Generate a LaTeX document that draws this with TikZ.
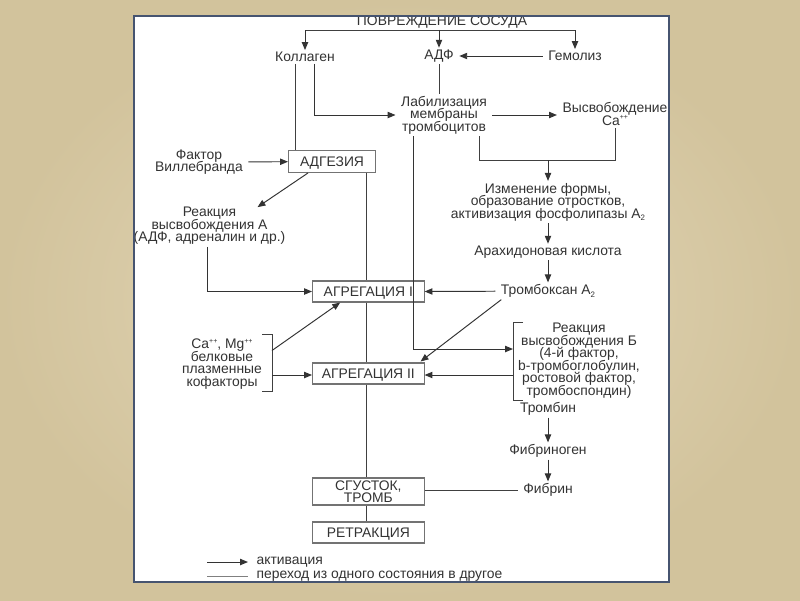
\documentclass[tikz,border=0pt]{standalone}
\usepackage{fontspec}
\setmainfont{Liberation Sans}
\usetikzlibrary{calc,arrows.meta}

\definecolor{bgin}{RGB}{228,216,186}
\definecolor{bgout}{RGB}{210,195,156}
\definecolor{frame}{RGB}{70,84,112}

\newcommand{\ionpp}{\raisebox{0.75ex}{\fontsize{4}{4}\selectfont ++}}
\newcommand{\subtwo}{\raisebox{-0.35ex}{\fontsize{4.5}{4.5}\selectfont 2}}
\newcommand{\diafont}{\fontsize{7.9}{7.15}\selectfont\lineskiplimit=-5pt\relax\lineskip=0pt\relax}

\tikzset{
  txt/.style={font=\diafont, inner xsep=3pt, inner ysep=1pt, align=center, text=black!80},
  box/.style={txt, draw=black!55, line width=0.6pt, fill=white, inner sep=1pt, text depth=0pt},
  act/.style={draw=black!80, line width=0.55pt, -{Triangle[length=4.5pt,width=3.6pt]}},
  pass/.style={draw=black!75, line width=0.55pt}
}

\begin{document}
\begin{tikzpicture}[x=0.02cm,y=-0.02cm]

 % slide and sheet
 \shade[inner color=bgin, outer color=bgout] (0,0) rectangle (800,600);
 \fill[white] (134,16) rectangle (669,582);

 \begin{scope}
  \clip (134.5,16.5) rectangle (668.5,581.5);
  \node[txt, anchor=base] (povr) at (442,25) {ПОВРЕЖДЕНИЕ СОСУДА};
 \end{scope}

 \node[txt] (koll) at (305,57) {Коллаген};
 \node[txt] (adf) at (439,56) {АДФ};
 \node[txt] (gemol) at (575,56) {Гемолиз};
 \coordinate (split) at (442,30);
 \draw[pass] (split -| koll) -- (split -| gemol);
 \draw[act] (split -| koll) -- (koll);
 \draw[act] (povr.south -| adf) -- (adf);
 \draw[act] (split -| gemol) -- (gemol);
 \draw[act] (gemol) -- (adf);

 \node[txt] (lab) at (444,115) {Лабилизация\\мембраны\\тромбоцитов};
 \node[txt] (vysv) at (615,114) {Высвобождение\\Ca\ionpp};
 \draw[pass] (adf.south) -- (adf.south |- lab.north);
 \draw[act] (lab) -- (lab -| vysv.west);

 \coordinate (k1) at ($(koll.south)+(-10,0)$);
 \coordinate (k2) at ($(koll.south)+(9,0)$);
 \draw[act] (k2) |- (lab.west);

 \node[box, minimum width=1.74cm, minimum height=0.43cm] (adgez) at (332,161.7) {АДГЕЗИЯ};
 \draw[pass] (k1) -- (k1 |- adgez.north);
 \node[txt] (villeb) at (199,162) {Фактор\\Виллебранда};
 \draw[act] (villeb) -- (adgez.west);

 % right column
 \coordinate (l1) at ($(lab.south)+(-31,0)$);
 \coordinate (l2) at ($(lab.south)+(35,0)$);
 \coordinate (merge) at (548,160);
 \node[txt] (izm) at (548,202) {Изменение формы,\\образование отростков,\\активизация фосфолипазы A\subtwo};
 \node[txt] (arach) at (548,252) {Арахидоновая кислота};
 \node[txt] (trbx) at (548,291) {Тромбоксан A\subtwo};
 \draw[pass] (l2) |- (merge) -| (vysv.south);
 \draw[act] (merge) -- (izm);
 \draw[act] (izm) -- (arach);
 \draw[act] (arach) -- (trbx);

 % central column
 \coordinate (mainx) at (366,0);
 \node[box, minimum width=2.23cm, minimum height=0.42cm] (agr1) at (368.3,291.5) {АГРЕГАЦИЯ I};
 \node[box, minimum width=2.23cm, minimum height=0.42cm] (agr2) at (368.3,373.5) {АГРЕГАЦИЯ II};
 \node[box, minimum width=2.23cm, minimum height=0.54cm] (clot) at (368.3,491.5) {СГУСТОК,\\ТРОМБ};
 \node[box, minimum width=2.23cm, minimum height=0.42cm] (retr) at (368.3,532.5) {РЕТРАКЦИЯ};
 \draw[pass] (adgez.south -| mainx) -- (agr1.north -| mainx);
 \draw[pass] (agr1.south -| mainx) -- (agr2.north -| mainx);
 \draw[pass] (agr2.south -| mainx) -- (clot.north -| mainx);
 \draw[pass] (clot.south -| mainx) -- (retr.north -| mainx);
 \draw[act] (trbx) -- (agr1.east);

 \node[txt] (reakA) at (209.5,226) {Реакция\\высвобождения А\\(АДФ, адреналин и др.)};
 \draw[act] ($(adgez.south west)+(20,0)$) -- ($(reakA.north)+(48,2)$);
 \coordinate (rA) at ($(reakA.south)+(-2.5,0)$);
 \draw[act] (rA) |- (agr1.west);

 \node[txt] (camg) at (222,364) {Ca\ionpp, Mg\ionpp\\белковые\\плазменные\\кофакторы};
 \draw[pass] (262,334) -- (272,334) -- (272,391) -- (262,391);
 \coordinate (cm1) at (272,350.5);
 \coordinate (cm2) at (272,375);
 \draw[act] (cm1) -- ($(agr1.south west)!0.25!(agr1.south east)$);
 \draw[act] (cm2) -- (cm2 -| agr2.west);

 \node[txt] (reakB) at (579,360.5) {Реакция\\высвобождения Б\\(4-й фактор,\\b-тромбоглобулин,\\ростовой фактор,\\тромбоспондин)};
 \draw[pass] (523,322) -- (513,322) -- (513,400) -- (523,400);
 \coordinate (rb1) at (513,349);
 \coordinate (rb2) at (513,375);
 \draw[act] (l1) |- (rb1);
 \draw[act] (rb2) -- (rb2 -| agr2.east);
 \draw[act] ($(trbx.south west)+(6,0)$) -- ($(agr2.north east)+(-4,-1)$);

 \node[txt] (trombin) at (548,409) {Тромбин};
 \node[txt] (fibrinogen) at (548,451) {Фибриноген};
 \node[txt] (fibrin) at (548,490) {Фибрин};
 \draw[act] (trombin) -- (fibrinogen);
 \draw[act] (fibrinogen) -- (fibrin);
 \draw[pass] (fibrin) -- (fibrin -| clot.east);

 % legend
 \coordinate (la) at (207,562);
 \coordinate (lb) at (248,562);
 \coordinate (lc) at (207,576.6);
 \coordinate (ld) at (248,576.6);
 \draw[act] (la) -- (lb);
 \draw[pass, draw=black!50] (lc) -- (ld);
 \node[txt, anchor=west] (legact) at (251,562) {активация};
 \node[txt, anchor=west] (legpass) at (251,576.6) {переход из одного состояния в другое};

 \draw[frame, line width=0.6pt] (134,16) rectangle (669,582);

\end{tikzpicture}
\end{document}
